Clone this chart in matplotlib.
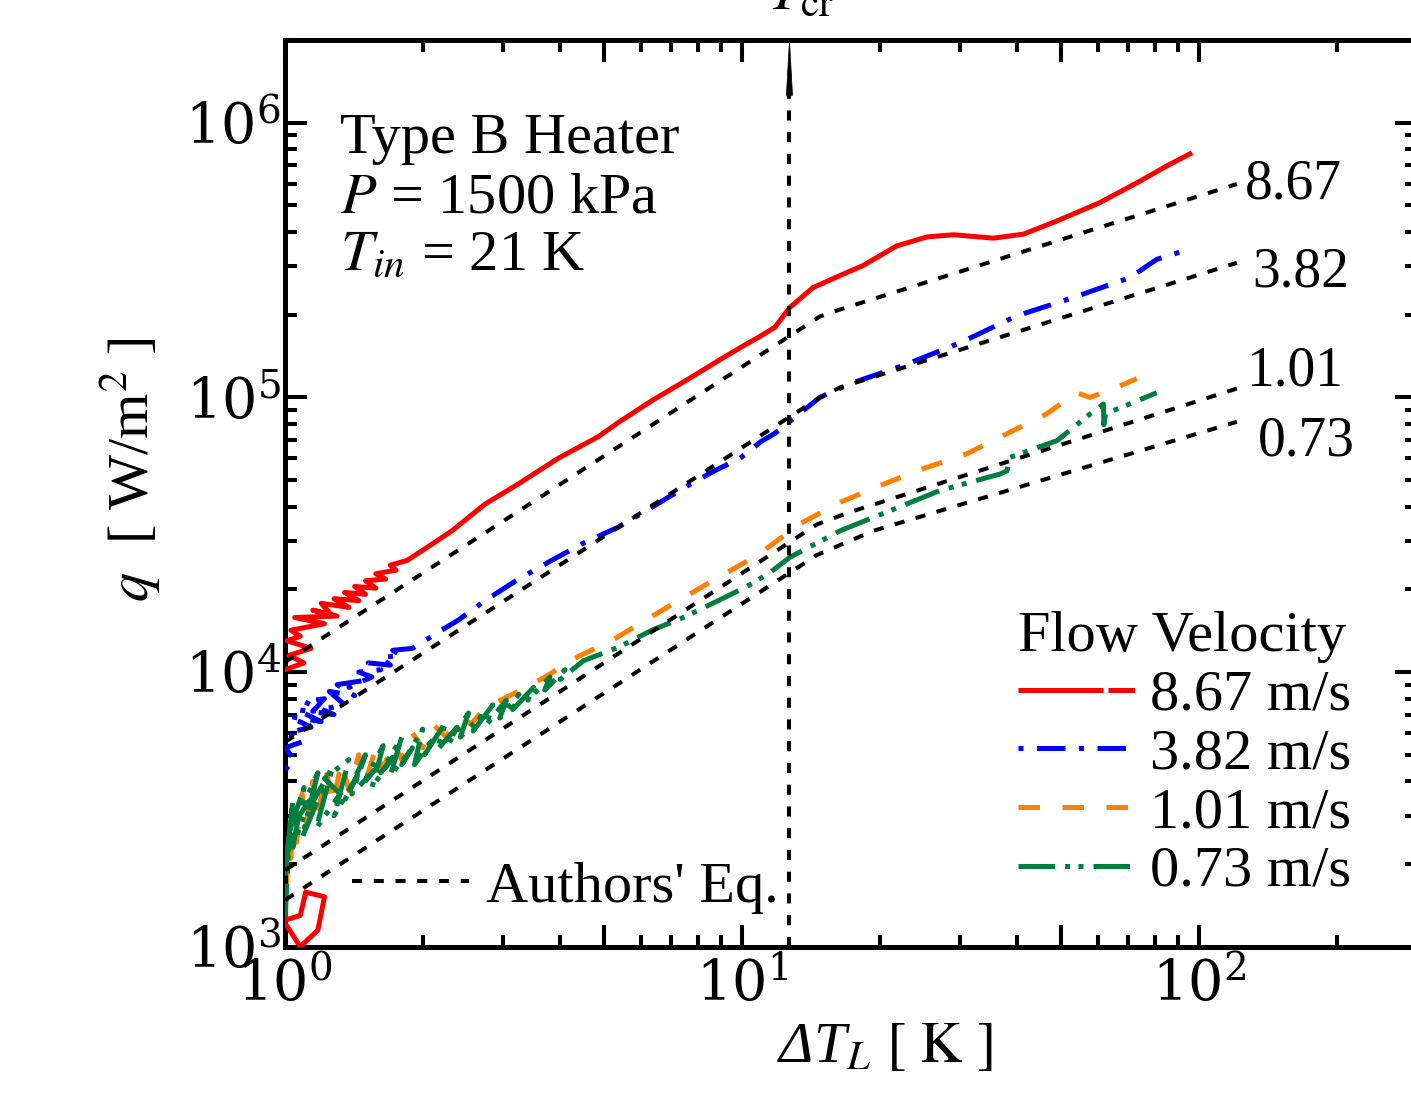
import numpy as np
import matplotlib.pyplot as plt
from matplotlib.lines import Line2D
from matplotlib import ticker, transforms

plt.rcParams['font.family'] = ['Liberation Serif', 'DejaVu Serif']
plt.rcParams['mathtext.fontset'] = 'dejavuserif'   # tick labels 10^n

# ---- data: (dT_L [K], q [W/m^2]) ----
red_pts = [(1.00, 1.22e3), (1.08, 1.0e3), (1.18, 1.15e3), (1.22, 1.52e3), (1.11, 1.58e3),
           (1.08, 1.3e3), (1.00, 1.25e3), (0.95, 1.3e3), (0.95, 1.0e4),
           (1.00, 1.02e4), (1.10, 1.08e4), (1.02, 1.15e4), (1.14, 1.22e4), (1.01, 1.3e4),
           (1.08, 1.35e4), (1.03, 1.42e4), (1.22, 1.5e4), (1.05, 1.58e4), (1.30, 1.6e4),
           (1.15, 1.68e4), (1.26, 1.62e4), (1.20, 1.78e4), (1.38, 1.72e4), (1.28, 1.85e4),
           (1.45, 1.82e4), (1.35, 1.95e4), (1.50, 1.92e4), (1.42, 2.05e4), (1.58, 2.02e4),
           (1.50, 2.15e4), (1.66, 2.18e4), (1.58, 2.28e4), (1.75, 2.35e4), (1.70, 2.45e4),
           (1.85, 2.55e4), (2.05, 2.85e4), (2.32, 3.27e4), (2.74, 4.09e4),
           (3.24, 4.84e4), (3.96, 6.0e4), (4.85, 7.2e4), (5.36, 8.1e4), (6.35, 9.73e4),
           (7.72, 1.18e5), (9.0, 1.38e5), (10.2, 1.56e5), (10.9, 1.66e5), (11.8, 1.8e5),
           (12.74, 2.13e5), (14.3, 2.51e5), (16.4, 2.78e5), (18.4, 3.02e5), (21.8, 3.56e5),
           (25.4, 3.84e5), (29.0, 3.91e5), (35.5, 3.8e5), (41.3, 3.93e5), (48.9, 4.39e5),
           (60.7, 5.12e5), (74.3, 6.13e5), (85.0, 6.96e5), (95.5, 7.7e5)]

blue_pts = [(1.00, 4.4e3), (1.05, 4.8e3), (1.00, 5.3e3), (1.10, 5.6e3), (1.01, 6.0e3),
            (1.14, 6.3e3), (1.02, 6.9e3), (1.20, 6.6e3), (1.06, 7.3e3), (1.28, 7.0e3),
            (1.10, 7.8e3), (1.22, 8.0e3), (1.15, 7.2e3), (1.35, 7.6e3), (1.25, 8.5e3),
            (1.42, 8.2e3), (1.30, 9.0e3), (1.48, 9.3e3), (1.38, 8.8e3), (1.55, 9.6e3),
            (1.45, 1.0e4), (1.62, 1.02e4), (1.52, 1.08e4), (1.70, 1.06e4), (1.62, 1.13e4),
            (1.80, 1.15e4), (1.72, 1.2e4), (1.90, 1.22e4), (2.05, 1.32e4), (2.2, 1.42e4),
            (2.4, 1.55e4), (2.74, 1.82e4), (3.2, 2.15e4), (3.83, 2.55e4), (4.5, 2.95e4),
            (5.36, 3.37e4), (6.3, 3.95e4), (7.5, 4.71e4), (8.7, 5.4e4), (9.9, 6.0e4),
            (11.0, 6.9e4), (11.8, 7.4e4), (12.74, 8.2e4), (14.8, 1.0e5), (17.2, 1.12e5),
            (22.9, 1.32e5), (30.0, 1.58e5), (39.9, 1.98e5), (53.1, 2.31e5), (70.6, 2.73e5),
            (80.8, 3.18e5), (95.5, 3.47e5)]

orange_pts = [(1.00, 1.15e3), (1.01, 1.9e3), (1.00, 2.8e3), (1.03, 2.1e3), (1.04, 3.2e3),
              (1.06, 2.4e3), (1.09, 3.6e3), (1.11, 2.7e3), (1.15, 4.0e3), (1.18, 3.0e3),
              (1.23, 4.4e3), (1.27, 3.3e3), (1.33, 4.7e3), (1.38, 3.7e3), (1.45, 5.0e3),
              (1.50, 4.0e3), (1.58, 5.3e3), (1.64, 4.4e3), (1.72, 5.6e3), (1.80, 4.8e3),
              (1.90, 6.0e3), (2.00, 5.3e3), (2.12, 6.4e3), (2.25, 5.8e3), (2.40, 6.8e3),
              (2.56, 6.5e3), (2.74, 7.4e3), (3.19, 8.4e3), (3.71, 9.6e3), (4.38, 1.14e4),
              (5.18, 1.3e4), (6.13, 1.54e4), (7.26, 1.82e4), (8.87, 2.21e4), (10.8, 2.66e4),
              (13.4, 3.47e4), (16.4, 4.15e4), (20.0, 4.77e4), (24.9, 5.5e4), (31.0, 6.23e4),
              (37.9, 7.36e4), (46.4, 8.71e4), (54.0, 1.04e5), (57.7, 1.0e5), (66.0, 1.087e5),
              (73.1, 1.17e5)]

green_pts = [(1.00, 1.25e3), (1.02, 2.4e3), (1.00, 1.8e3), (1.04, 3.4e3), (1.01, 2.2e3),
             (1.07, 3.0e3), (1.02, 2.6e3), (1.10, 3.8e3), (1.04, 2.3e3), (1.13, 3.4e3),
             (1.06, 2.9e3), (1.18, 4.3e3), (1.09, 2.5e3), (1.22, 3.9e3), (1.13, 3.2e3),
             (1.27, 4.5e3), (1.17, 2.7e3), (1.32, 3.6e3), (1.22, 4.1e3), (1.38, 4.8e3),
             (1.28, 3.0e3), (1.44, 4.2e3), (1.35, 3.4e3), (1.50, 5.0e3), (1.40, 3.6e3),
             (1.57, 4.4e3), (1.48, 3.9e3), (1.64, 5.4e3), (1.55, 3.8e3), (1.72, 4.9e3),
             (1.62, 4.3e3), (1.80, 5.8e3), (1.70, 4.2e3), (1.90, 5.3e3), (1.80, 4.6e3),
             (2.00, 6.2e3), (1.92, 4.6e3), (2.12, 5.8e3), (2.02, 5.0e3), (2.25, 6.6e3),
             (2.15, 5.2e3), (2.38, 6.3e3), (2.28, 5.5e3), (2.52, 7.1e3), (2.42, 5.8e3),
             (2.68, 6.9e3), (2.58, 6.1e3), (2.85, 7.6e3), (2.75, 6.4e3), (3.05, 7.9e3),
             (2.95, 6.8e3), (3.25, 8.3e3), (3.15, 7.3e3), (3.5, 8.8e3), (3.4, 7.9e3),
             (3.8, 9.6e3), (3.7, 8.6e3), (4.1, 1.02e4), (4.0, 9.4e3), (4.5, 1.1e4),
             (5.36, 1.23e4), (6.35, 1.42e4), (7.5, 1.59e4), (8.87, 1.82e4), (10.2, 2.04e4),
             (11.5, 2.3e4), (12.74, 2.62e4), (16.4, 3.27e4), (21.1, 3.87e4), (27.1, 4.58e4),
             (36.7, 5.26e4), (38.0, 5.4e4), (38.6, 6.05e4), (48.9, 6.96e4), (57.8, 8.71e4),
             (61.8, 9.46e4), (61.9, 7.95e4), (62.5, 8.8e4), (65.0, 8.96e4), (72.0, 9.6e4),
             (80.8, 1.04e5)]

# authors' correlation, one curve per velocity
eq_labels = ['8.67', '3.82', '1.01', '0.73']
eq_dT = [[1.0, 14.8, 16.4, 121],
         [1.0, 14.8, 16.4, 121],
         [1.0, 14.6, 17.2, 121],
         [1.0, 14.6, 19.4, 121]]
eq_q = [[1.087e4, 1.97e5, 2.09e5, 5.98e5],
        [5.56e3, 1.0e5, 1.087e5, 3.09e5],
        [1.9e3, 3.45e4, 3.82e4, 1.077e5],
        [1.48e3, 2.67e4, 3.27e4, 8.15e4]]
eq_off = [(6, 0), (11, -7), (7, 12), (15, -14)]   # label offsets, points

T_cr = 12.7
legend_labels = ['8.67 m/s', '3.82 m/s', '1.01 m/s', '0.73 m/s']

FS = 42
LW = 3.6

fig = plt.figure(figsize=(14.11, 10.94), dpi=100)
ax = fig.add_axes([0.2020, 0.1346, 0.8023, 0.8288])
ax.set_xscale('log')
ax.set_yscale('log')

red_ls = (0, (17, 1, 5.3, 1))
blue_ls = (0, (1, 2.7, 5.7, 2.7))
orange_ls = (0, (4.3, 4.5))
green_ls = (0, (7.3, 2, 1, 1.7, 1, 2))
eq_ls = (0, (2.5, 2.9))

def xy(pts):
    return [p[0] for p in pts], [p[1] for p in pts]

ax.plot(*xy(orange_pts), color='#ff8000', lw=LW, ls=orange_ls, zorder=2)
ax.plot(*xy(green_pts), color='#007f3f', lw=LW, ls=green_ls, zorder=3)
ax.plot(*xy(blue_pts), color='#0000ff', lw=LW, ls=blue_ls, zorder=4)
ax.plot(*xy(red_pts), color='#ff0000', lw=LW, ls='-', zorder=5)

for lab, xs, ys, off in zip(eq_labels, eq_dT, eq_q, eq_off):
    ax.plot(xs, ys, color='k', lw=2.9, ls=eq_ls, zorder=6)
    ax.annotate(lab, xy=(xs[-1], ys[-1]), xytext=off, textcoords='offset points',
                ha='left', va='center', fontsize=40)

# critical temperature marker
top_frac = 0.939
ax.axvline(T_cr, ymin=0, ymax=top_frac, color='k', lw=2.9, ls=eq_ls, zorder=6)
bt = transforms.blended_transform_factory(ax.transData, ax.transAxes)
ax.annotate('', xy=(T_cr, 1.0), xycoords=bt, xytext=(T_cr, top_frac), textcoords=bt,
            arrowprops=dict(arrowstyle='wedge,tail_width=0.22', color='k', lw=0.5,
                            mutation_scale=20, shrinkA=0, shrinkB=0))
ft = transforms.blended_transform_factory(ax.transData, fig.transFigure)
fig.text(T_cr * 1.06, 1 - 9 / 1094, r'$T_{\rm cr}$', transform=ft, ha='center',
         va='baseline', fontsize=FS, math_fontfamily='stix')

ax.set_xlim(1, 300)
ax.set_ylim(1e3, 2e6)

def pow_fmt(v, pos):
    e = np.log10(v)
    if abs(e - round(e)) < 1e-6:
        return r'$10^{%d}$' % round(e)
    return ''

ax.xaxis.set_major_locator(ticker.FixedLocator([1, 5, 10, 50, 100]))
ax.xaxis.set_major_formatter(ticker.FuncFormatter(pow_fmt))
ax.xaxis.set_minor_locator(ticker.FixedLocator([2, 3, 4, 6, 7, 8, 9, 20, 30, 40, 60, 70, 80, 90, 200]))
ax.xaxis.set_minor_formatter(ticker.NullFormatter())
ax.yaxis.set_major_locator(ticker.LogLocator(base=10))
ax.yaxis.set_major_formatter(ticker.FuncFormatter(pow_fmt))
ax.yaxis.set_minor_locator(ticker.LogLocator(base=10, subs=np.arange(2, 10)))
ax.yaxis.set_minor_formatter(ticker.NullFormatter())

ax.tick_params(which='both', direction='in', top=True, right=True, width=2.9, labelsize=40)
ax.tick_params(which='major', length=15.8)
ax.tick_params(which='minor', length=8.6)
ax.tick_params(axis='x', pad=8)
ax.tick_params(axis='y', pad=3)
for s in ax.spines.values():
    s.set_linewidth(LW)

ax.set_xlabel(r'ΔT$_{\mathit{L}}$ $\mathrm{[\ K\ ]}$', fontsize=FS, fontstyle='italic',
              math_fontfamily='stix')
ax.xaxis.set_label_coords(0.53, -0.083)
ax.set_ylabel(r'$q$  [ W/m$^2$ ]', fontsize=FS, math_fontfamily='stix')
ax.yaxis.set_label_coords(-0.108, 0.526)

# run conditions
ax.text(0.0486, 0.8754, 'Type B Heater', transform=ax.transAxes, fontsize=FS, va='baseline')
ax.text(0.0486, 0.8103, r'$P$ = 1500 kPa', transform=ax.transAxes, fontsize=FS,
        va='baseline', math_fontfamily='stix')
ax.text(0.0486, 0.7463, r'$T_{in}$ = 21 K', transform=ax.transAxes, fontsize=FS,
        va='baseline', math_fontfamily='stix')

# legends
handles = [Line2D([], [], color='#ff0000', lw=LW, ls=red_ls),
           Line2D([], [], color='#0000ff', lw=LW, ls=blue_ls),
           Line2D([], [], color='#ff8000', lw=LW, ls=orange_ls),
           Line2D([], [], color='#007f3f', lw=LW, ls=green_ls)]
leg1 = ax.legend(handles, legend_labels, title='Flow Velocity', title_fontsize=FS,
                 fontsize=FS, frameon=False, loc='upper left', bbox_to_anchor=(0.6475, 0.370),
                 borderpad=0, borderaxespad=0, handlelength=2.0, handletextpad=0.26,
                 labelspacing=0.1, alignment='left')
ax.add_artist(leg1)
eq_handle = Line2D([], [], color='k', lw=2.9, ls=eq_ls)
ax.legend([eq_handle], ["Authors' Eq."], fontsize=FS, frameon=False, loc='center left',
          bbox_to_anchor=(0.0592, 0.0658), borderpad=0, borderaxespad=0,
          handlelength=2.0, handletextpad=0.3)

fig.savefig('out.png', dpi=100)
